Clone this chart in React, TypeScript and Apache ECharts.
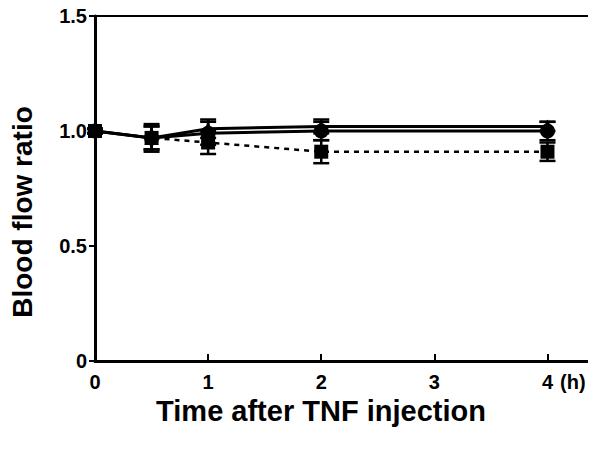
import React, { useEffect, useRef } from "react";
import * as echarts from "echarts";

const times = [0, 0.5, 1, 2, 4];
const triVals = [1.0, 0.97, 1.01, 1.02, 1.02];
const triErr = [0.01, 0.05, 0.04, 0.03, 0.02];
const circleVals = [1.0, 0.97, 0.99, 1.0, 1.0];
const circleErr = [0.01, 0.06, 0.05, 0.04, 0.04];
const squareVals = [1.0, 0.97, 0.95, 0.91, 0.91];
const squareErr = [0.01, 0.05, 0.05, 0.05, 0.04];
const xTicks = [0, 1, 2, 3, 4];
const yTicks = [0, 0.5, 1.0, 1.5];

const FONT = "Liberation Sans";

function errSeries(vals: number[], errs: number[]) {
  return {
    type: "custom",
    z: 5,
    silent: true,
    data: times.map((t, i) => [t, vals[i] - errs[i], vals[i] + errs[i]]),
    renderItem: (params: any, api: any) => {
      const x = api.value(0);
      const lo = api.coord([x, api.value(1)]);
      const hi = api.coord([x, api.value(2)]);
      const w = 8;
      const st = { stroke: "#000", lineWidth: 2.5 };
      return {
        type: "group",
        children: [
          { type: "line", shape: { x1: lo[0], y1: lo[1], x2: hi[0], y2: hi[1] }, style: st },
          { type: "line", shape: { x1: lo[0] - w, y1: lo[1], x2: lo[0] + w, y2: lo[1] }, style: st },
          { type: "line", shape: { x1: hi[0] - w, y1: hi[1], x2: hi[0] + w, y2: hi[1] }, style: st },
        ],
      };
    },
  };
}

function lineSeries(vals: number[], symbol: string, dashed: boolean, size: number) {
  return {
    type: "line",
    z: 4,
    data: times.map((t, i) => [t, vals[i]]),
    symbol,
    symbolSize: size,
    itemStyle: { color: "#000" },
    lineStyle: { color: "#000", width: dashed ? 2.5 : 3, type: dashed ? [5, 5] : "solid" },
  };
}

const axisLabelBase = {
  color: "#000",
  fontFamily: FONT,
  fontWeight: "bold" as const,
  fontSize: 20,
};

export default function App() {
  const ref = useRef<HTMLDivElement>(null);
  useEffect(() => {
    const chart = echarts.init(ref.current!, null, { renderer: "svg" });
    chart.setOption({
      animation: false,
      backgroundColor: "#fff",
      textStyle: { fontFamily: FONT },
      grid: {
        left: 95,
        top: 16,
        width: 500,
        height: 345,
        show: true,
        borderColor: "#000",
        borderWidth: 2,
        backgroundColor: "transparent",
      },
      xAxis: {
        type: "value",
        min: 0,
        max: 4.42,
        interval: 1,
        axisLine: { show: true, onZero: false, lineStyle: { color: "#000", width: 3 } },
        axisTick: { show: true, inside: true, length: 7, lineStyle: { color: "#000", width: 2 } },
        splitLine: { show: false },
        axisLabel: {
          ...axisLabelBase,
          margin: 11,
          showMaxLabel: false,
          formatter: (v: number) => (xTicks.includes(v) ? String(v) : ""),
        },
      },
      yAxis: {
        type: "value",
        min: 0,
        max: 1.5,
        interval: 0.5,
        axisLine: { show: true, lineStyle: { color: "#000", width: 3 } },
        axisTick: { show: true, length: 6, lineStyle: { color: "#000", width: 2 } },
        splitLine: { show: false },
        axisLabel: {
          ...axisLabelBase,
          margin: 8,
          formatter: (v: number) => {
            const t = yTicks.find((y) => Math.abs(y - v) < 1e-6);
            if (t === undefined) return "";
            return t === 0 ? "0" : t.toFixed(1);
          },
        },
      },
      graphic: [
        {
          type: "text",
          x: 560,
          y: 382,
          style: { text: "(h)", fill: "#000", font: `bold 20px ${FONT}`, verticalAlign: "middle" },
        },
        {
          type: "text",
          x: 321,
          y: 411,
          style: {
            text: "Time after TNF injection",
            fill: "#000",
            font: `bold 29px ${FONT}`,
            align: "center",
            verticalAlign: "middle",
          },
        },
        {
          type: "text",
          x: 22,
          y: 212,
          rotation: Math.PI / 2,
          style: {
            text: "Blood flow ratio",
            fill: "#000",
            font: `bold 28px ${FONT}`,
            align: "center",
            verticalAlign: "middle",
          },
        },
      ],
      series: [
        lineSeries(squareVals, "rect", true, 14),
        lineSeries(circleVals, "circle", false, 15),
        lineSeries(triVals, "triangle", false, 14),
        errSeries(squareVals, squareErr),
        errSeries(circleVals, circleErr),
        errSeries(triVals, triErr),
      ],
    });
    return () => chart.dispose();
  }, []);
  return <div ref={ref} style={{ width: 596, height: 450, margin: -8 }} />;
}
